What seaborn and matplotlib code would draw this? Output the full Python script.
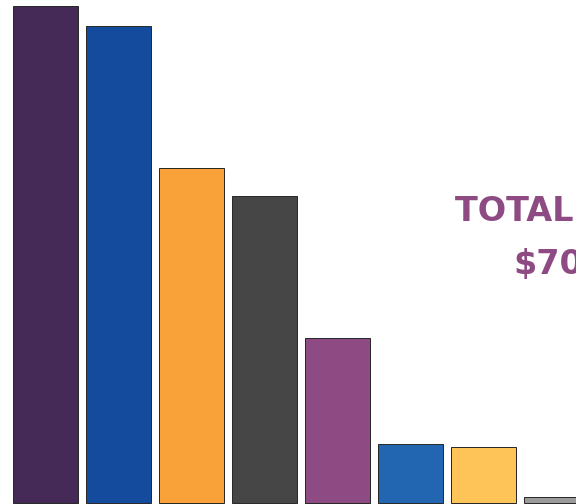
import matplotlib
matplotlib.use("Agg")
import matplotlib.pyplot as plt
import seaborn as sns

# Bar values (millions of dollars)
categories = ["Item 1", "Item 2", "Item 3", "Item 4", "Item 5", "Item 6", "Item 7", "Item 8"]
values = [17.4, 16.7, 11.73, 10.75, 5.78, 2.07, 1.96, 0.21]
colors = ["#452A57", "#154B9C", "#F9A23A", "#464646", "#8E4A82", "#2265B1", "#FFC457", "#9A9A9A"]

total_label = "TOTAL SPEND"
total_value = "$70.6M"

sns.set_theme(style="white")

fig = plt.figure(figsize=(8, 7), dpi=72)
ax = fig.add_axes([0, 0, 1, 1])

sns.barplot(x=categories, y=values, hue=categories, palette=colors, legend=False,
            width=0.89, edgecolor="#2a2a2a", linewidth=1.0, saturation=1, ax=ax)

# the chart is cropped: last bar and the total label run off the right edge
ax.set_xlim(-0.623, 7.267)
ax.set_ylim(-0.035, 17.61)
ax.axis("off")

text_color = "#8E4A82"
fig.text(455 / 576, 1 - 221 / 504, total_label, ha="left", va="baseline",
         fontsize=33.5, fontweight="bold", color=text_color, family="DejaVu Sans")
fig.text(513 / 576, 1 - 274 / 504, total_value, ha="left", va="baseline",
         fontsize=33.5, fontweight="bold", color=text_color, family="DejaVu Sans")

fig.savefig("out.png", dpi=72)
